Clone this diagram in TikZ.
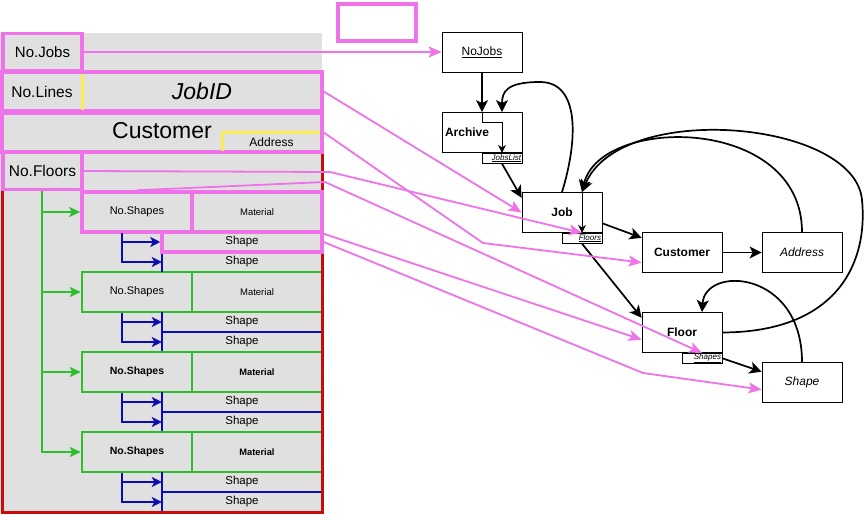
\documentclass[tikz,border=0pt]{standalone}
\usepackage{fontspec}
\setmainfont{Liberation Sans}
\usetikzlibrary{arrows.meta}
\definecolor{pinkline}{RGB}{238,115,232}
\definecolor{redline}{RGB}{200,12,12}
\definecolor{greenline}{RGB}{45,190,45}
\definecolor{blueline}{RGB}{12,12,180}
\definecolor{yellowline}{RGB}{250,235,80}
\definecolor{cellgray}{RGB}{224,224,224}

\begin{document}
\begin{tikzpicture}[x=1pt,y=-1pt]
\tikzstyle{pinkbox} = [draw=pinkline, line width=3.5pt, inner sep=0pt]
\tikzstyle{greenbox} = [draw=greenline, line width=2.5pt, inner sep=0pt, minimum height=40pt]
\tikzstyle{cell} = [inner sep=0pt, minimum width=160pt, minimum height=20pt, font=\fontsize{11.5}{13}\selectfont]
\tikzstyle{entity} = [draw, line width=0.8pt, minimum width=80pt, minimum height=40pt, inner sep=2pt, node distance=80pt, font=\fontsize{12}{14}\selectfont]
\tikzstyle{subentity} = [draw, line width=0.8pt, minimum width=40pt, minimum height=10pt, inner sep=0pt, text width=38pt, align=right, font=\fontsize{8}{9}\selectfont\itshape]
\tikzstyle{link} = [-{Stealth[length=12pt,width=12pt,inset=3pt]}, line width=1.7pt]
\tikzstyle{sublink} = [-{Stealth[length=8pt,width=8pt]}, line width=0.8pt]
\tikzstyle{map} = [-{Stealth[length=13pt,width=11pt,inset=3pt]}, draw=pinkline, line width=1.8pt]
\tikzstyle{bline} = [draw=blueline, line width=1.8pt]
\tikzstyle{fork} = [-{Stealth[length=10pt,width=10pt,inset=2.5pt]}, draw=blueline, line width=1.8pt]
\tikzstyle{gfork} = [-{Stealth[length=11pt,width=10pt,inset=2.5pt]}, draw=greenline, line width=2pt]
\tikzstyle{yline} = [draw=yellowline, line width=3pt]

\useasboundingbox (0,0) rectangle (864,519);
\fill[cellgray] (0,33) rectangle (322,513);

\node[greenbox, minimum width=110pt, font=\fontsize{11}{13}\selectfont] (noshapesB) at (137,292) {No.Shapes};
\node[greenbox, minimum width=130pt, font=\fontsize{9.5}{11}\selectfont] (materialB) at (257,292) {Material};
\node[cell] (shapeB1) at (242,322) {Shape};
\node[cell] (shapeB2) at (242,342) {Shape};
\draw[bline] (shapeB1.north west) -- (shapeB2.south west);
\draw[bline] (shapeB1.south west) -- (shapeB1.south east);

\node[greenbox, minimum width=110pt, font=\fontsize{10.5}{13}\selectfont\bfseries] (noshapesC) at (137,372) {No.Shapes};
\node[greenbox, minimum width=130pt, font=\fontsize{9.3}{11}\selectfont\bfseries] (materialC) at (257,372) {Material};
\node[cell] (shapeC1) at (242,402) {Shape};
\node[cell] (shapeC2) at (242,422) {Shape};
\draw[bline] (shapeC1.north west) -- (shapeC2.south west);
\draw[bline] (shapeC1.south west) -- (shapeC1.south east);

\node[greenbox, minimum width=110pt, font=\fontsize{10.5}{13}\selectfont\bfseries] (noshapesD) at (137,452) {No.Shapes};
\node[greenbox, minimum width=130pt, font=\fontsize{9.3}{11}\selectfont\bfseries] (materialD) at (257,452) {Material};
\node[cell] (shapeD1) at (242,482) {Shape};
\node[cell] (shapeD2) at (242,502) {Shape};
\draw[bline] (shapeD1.north west) -- (shapeD2.south west);
\draw[bline] (shapeD1.south west) -- (shapeD1.south east);

\node[draw=redline, line width=3pt, minimum width=320pt, minimum height=360pt, inner sep=0pt] (floorblock) at (162,332) {};

\node[pinkbox, minimum width=78pt, minimum height=37pt] (legend) at (377,22.5) {};
\node[pinkbox, minimum width=79pt, minimum height=37pt, font=\fontsize{15}{18}\selectfont] (nojobsL) at (42.5,52) {No.Jobs};
\node[pinkbox, minimum width=320pt, minimum height=39pt] (jobrow) at (162,91.5) {};
\node[font=\fontsize{15.5}{18}\selectfont] (nolines) at (42,91.5) {No.Lines};
\node[font=\fontsize{23}{26}\selectfont\itshape] (jobid) at (202,91.5) {JobID};
\draw[yline] (82,74) -- (82,110);
\node[pinkbox, minimum width=320pt, minimum height=39pt] (custrow) at (162,132.5) {};
\node[font=\fontsize{23}{26}\selectfont] (custL) at (162,131) {Customer};
\draw[yline] (222,151) -- (222,132) -- (320,132);
\node[font=\fontsize{12}{14}\selectfont] (addrL) at (271.5,142) {Address};
\node[pinkbox, minimum width=79pt, minimum height=37pt, font=\fontsize{15.5}{18}\selectfont] (nofloors) at (42.5,171) {No.Floors};

\node[cell] (shapeA2) at (242,262) {Shape};
\draw[bline] (shapeA2.north west) -- (shapeA2.south west);
\node[pinkbox, minimum width=110pt, minimum height=40pt, font=\fontsize{11}{13}\selectfont] (noshapesA) at (137,212) {No.Shapes};
\node[pinkbox, minimum width=130pt, minimum height=40pt, font=\fontsize{9.5}{11}\selectfont] (materialA) at (257,212) {Material};
\node[pinkbox, minimum width=160pt, minimum height=20pt, font=\fontsize{11.5}{13}\selectfont] (shapeA1) at (242,242) {Shape};

\coordinate (forkA) at (122,233);
\coordinate (forkB) at (122,313);
\coordinate (forkC) at (122,393);
\coordinate (forkD) at (122,473);
\draw[fork] (forkA) |- (shapeA1);
\draw[fork] (forkA) |- (shapeA2);
\draw[fork] (forkB) |- (shapeB1);
\draw[fork] (forkB) |- (shapeB2);
\draw[fork] (forkC) |- (shapeC1);
\draw[fork] (forkC) |- (shapeC2);
\draw[fork] (forkD) |- (shapeD1);
\draw[fork] (forkD) |- (shapeD2);

\coordinate (floorfork) at (42,191);
\draw[gfork] (floorfork) |- (noshapesA);
\draw[gfork] (floorfork) |- (noshapesB);
\draw[gfork] (floorfork) |- (noshapesC);
\draw[gfork] (floorfork) |- (noshapesD);

\node[entity] (nojobsR) at (482,52.5) {\underline{NoJobs}};
\node[entity, below of=nojobsR, text width=74pt, align=left] (archive) {\textbf{Archive}};
\node[entity] (job) at (562,212.5) {\textbf{Job}};
\node[entity] (customer) at (682,252.5) {\textbf{Customer}};
\node[entity, right of=customer, node distance=120pt] (address) {\textit{Address}};
\node[entity, below of=customer] (floor) {\textbf{Floor}};
\node[entity] (shape) at (802,382.5) {\textit{Shape}};
\node[subentity, anchor=north east] (jobslist) at (archive.south east) {\underline{JobsList}};
\node[subentity, anchor=north east] (floors) at (job.south east) {\underline{Floors}};
\node[subentity, anchor=north east] (shapes) at (floor.south east) {\underline{Shapes}};

\draw[link] (nojobsR) -- (archive);
\draw[sublink] (archive.north) -- ++(0,10) -| (jobslist.north);
\draw[link] (job.north) .. controls (578,140) and (580,82) .. (540,82) .. controls (506,82) and (502,92) .. (jobslist.north |- archive.north);
\draw[link] (jobslist.south) -- (job.160);
\draw[sublink] (floors.north |- job.north) -- (floors.north);
\draw[link] (address.north) .. controls (802,115) and (600,115) .. (floors.north |- job.north);
\draw[link] (floor.east) .. controls (840,332) and (868,260) .. (862,200) .. controls (855,120) and (620,100) .. (floors.north |- job.north);
\draw[link] (job.-15) -- (customer.160);
\draw[link] (floors.south) -- (floor.160);
\draw[link] (customer) -- (address);
\draw[link] (shapes.east) -- (shape.165);
\draw[link] (shape.north) .. controls (802,270) and (705,265) .. (shapes.north |- floor.north);

\draw[map] (nojobsL.east) -- (nojobsL.east -| nojobsR.west);
\draw[map] (jobrow.east) -- (job.west);
\draw[map] (custrow.east) -- (483,243) -- (customer.194);
\draw[map] (nofloors.east) -- (330,172) -- (floors.north);
\draw[map] (noshapesA.north) -- (325,182) -- (shapes.north);
\draw[map] (materialA.south east) -- (floor.190);
\draw[map] (shapeA1.east) -- (643,373) -- (shape.190);
\end{tikzpicture}
\end{document}
